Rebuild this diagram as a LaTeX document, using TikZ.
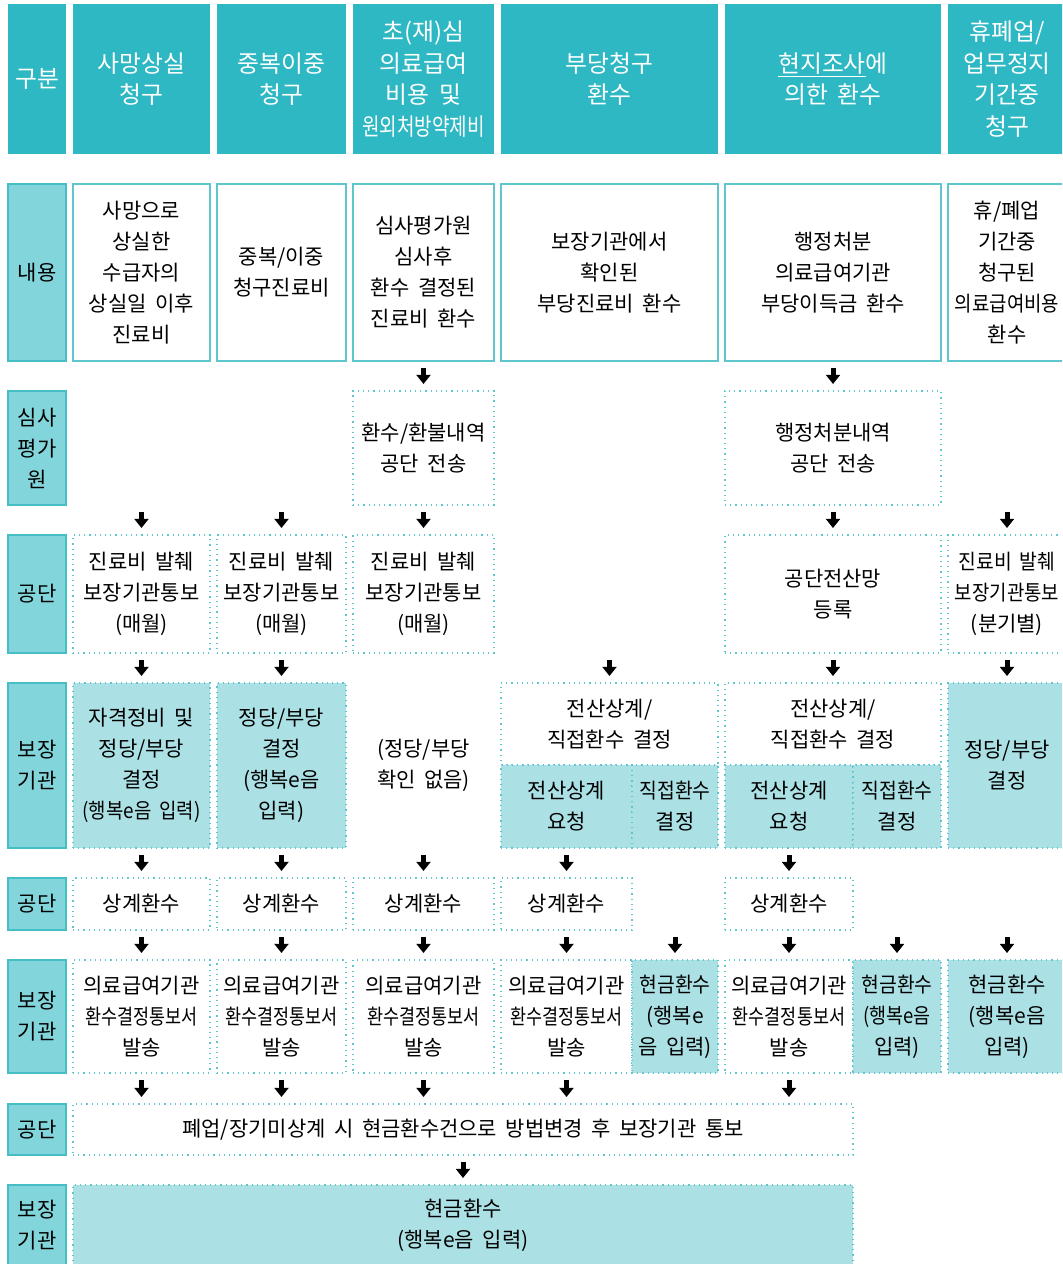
\documentclass[tikz,border=0pt]{standalone}
\usepackage{fontspec}
\setmainfont[WordSpace=1.8]{Noto Sans CJK KR}
\usepackage{graphicx}
\usetikzlibrary{arrows.meta}
\definecolor{headteal}{HTML}{2EB8C3}
\definecolor{labteal}{HTML}{82D5DA}
\definecolor{labedge}{HTML}{45BEC6}
\definecolor{boxteal}{HTML}{ABE1E5}
\definecolor{dotedge}{HTML}{5FC6CE}
\tikzset{
  cellbase/.style = {inner sep=0pt,outer sep=0pt,align=center,
                     font=\fontsize{10.5}{15.5}\selectfont},
  headcell/.style = {fill=headteal,text=white,font=\fontsize{11.9}{15.8}\selectfont},
  labcell/.style  = {fill=labteal,draw=labedge,line width=0.8pt},
  textcell/.style = {draw=dotedge,line width=0.6pt},
  dotcell/.style  = {draw=dotedge,dotted,line width=0.6pt},
  fillcell/.style = {dotcell,fill=boxteal},
  flowarr/.style  = {-{Triangle[length=4.6pt,width=7pt]},line width=2.5pt,
                     shorten <=3.5pt,shorten >=3.5pt}
}
% name, style, x1, y1, x2, y2, text (pixel grid of the page)
\newcommand{\cell}[7]{\node[cellbase,#2,minimum width={(#5-#3)*0.5pt},
  minimum height={(#6-#4)*0.5pt}] (#1) at ({(#3+#5)/2},{(#4+#6)/2}) {#7};}
\newcommand{\sqz}[2]{\scalebox{#1}[1]{#2}}

\begin{document}
\begin{tikzpicture}[x=0.5pt,y=-0.5pt]
  \useasboundingbox (0,0) rectangle (1062,1264);
  \clip (0,0) rectangle (1062,1264);

  % header row
  \cell{h0}{headcell}{8}{4}{66}{154}{구분}
  \cell{h1}{headcell}{73}{4}{210}{154}{사망상실\\청구}
  \cell{h2}{headcell}{217}{4}{346}{154}{중복이중\\청구}
  \cell{h3}{headcell}{353}{4}{494}{154}{초(재)심\\의료급여\\비용 및\\\sqz{0.8}{원외처방약제비}}
  \cell{h4}{headcell}{501}{4}{718}{154}{부당청구\\환수}
  \cell{h5}{headcell}{725}{4}{941}{154}{\underline{현지조사}에\\의한 환수}
  \cell{h6}{headcell}{948}{4}{1066}{154}{휴폐업/\\업무정지\\기간중\\청구}

  % row labels
  \cell{l1}{labcell}{8}{184}{66}{361}{내용}
  \cell{l2}{labcell}{8}{391}{66}{505}{심사\\평가\\원}
  \cell{l3}{labcell}{8}{535}{66}{653}{공단}
  \cell{l4}{labcell}{8}{683}{66}{848}{보장\\기관}
  \cell{l5}{labcell}{8}{878}{66}{930}{공단}
  \cell{l6}{labcell}{8}{960}{66}{1073}{보장\\기관}
  \cell{l7}{labcell}{8}{1104}{66}{1155}{공단}
  \cell{l8}{labcell}{8}{1185}{66}{1266}{보장\\기관}

  % 내용
  \cell{c1}{textcell}{73}{184}{210}{361}{사망으로\\상실한\\수급자의\\상실일 이후\\진료비}
  \cell{c2}{textcell}{217}{184}{346}{361}{중복/이중\\청구진료비}
  \cell{c3}{textcell}{353}{184}{494}{361}{심사평가원\\심사후\\환수 결정된\\진료비 환수}
  \cell{c4}{textcell}{501}{184}{718}{361}{보장기관에서\\확인된\\부당진료비 환수}
  \cell{c5}{textcell}{725}{184}{941}{361}{행정처분\\의료급여기관\\부당이득금 환수}
  \cell{c6}{textcell}{948}{184}{1066}{361}{휴/폐업\\기간중\\청구된\\\sqz{0.9}{의료급여비용}\\환수}

  % 심사평가원
  \cell{s3}{dotcell}{353}{391}{494}{505}{환수/환불내역\\공단 전송}
  \cell{s5}{dotcell}{725}{391}{941}{505}{행정처분내역\\공단 전송}

  % 공단
  \cell{g1}{dotcell}{73}{535}{210}{653}{진료비 발췌\\보장기관통보\\(매월)}
  \cell{g2}{dotcell}{217}{535}{346}{653}{진료비 발췌\\보장기관통보\\(매월)}
  \cell{g3}{dotcell}{353}{535}{494}{653}{진료비 발췌\\보장기관통보\\(매월)}
  \cell{g5}{dotcell}{725}{535}{941}{653}{공단전산망\\등록}
  \cell{g6}{dotcell}{948}{535}{1066}{653}{\sqz{0.92}{진료비 발췌}\\\sqz{0.9}{보장기관통보}\\(분기별)}

  % 보장기관
  \cell{b1}{fillcell}{73}{683}{210}{848}{자격정비 및\\정당/부당\\결정\\\sqz{0.9}{(행복e음 입력)}}
  \cell{b2}{fillcell}{217}{683}{346}{848}{정당/부당\\결정\\(행복e음\\입력)}
  \cell{b3}{}{353}{683}{494}{848}{(정당/부당\\확인 없음)}
  \cell{b4}{dotcell}{501}{683}{718}{765}{전산상계/\\직접환수 결정}
  \cell{b4a}{fillcell}{501}{765}{632}{848}{전산상계\\요청}
  \cell{b4b}{fillcell}{632}{765}{718}{848}{\sqz{0.92}{직접환수}\\결정}
  \cell{b5}{dotcell}{725}{683}{941}{765}{전산상계/\\직접환수 결정}
  \cell{b5a}{fillcell}{725}{765}{853}{848}{전산상계\\요청}
  \cell{b5b}{fillcell}{853}{765}{941}{848}{\sqz{0.92}{직접환수}\\결정}
  \cell{b6}{fillcell}{948}{683}{1066}{848}{정당/부당\\결정}

  % 공단
  \cell{o1}{dotcell}{73}{878}{210}{930}{상계환수}
  \cell{o2}{dotcell}{217}{878}{346}{930}{상계환수}
  \cell{o3}{dotcell}{353}{878}{494}{930}{상계환수}
  \cell{o4}{dotcell}{501}{878}{632}{930}{상계환수}
  \cell{o5}{dotcell}{725}{878}{853}{930}{상계환수}

  % 보장기관
  \cell{r1}{dotcell}{73}{960}{210}{1073}{의료급여기관\\\sqz{0.83}{환수결정통보서}\\발송}
  \cell{r2}{dotcell}{217}{960}{346}{1073}{의료급여기관\\\sqz{0.83}{환수결정통보서}\\발송}
  \cell{r3}{dotcell}{353}{960}{494}{1073}{의료급여기관\\\sqz{0.83}{환수결정통보서}\\발송}
  \cell{r4a}{dotcell}{501}{960}{632}{1073}{의료급여기관\\\sqz{0.83}{환수결정통보서}\\발송}
  \cell{r4b}{fillcell}{632}{960}{718}{1073}{\sqz{0.92}{현금환수}\\(행복e\\음 입력)}
  \cell{r5a}{dotcell}{725}{960}{853}{1073}{의료급여기관\\\sqz{0.83}{환수결정통보서}\\발송}
  \cell{r5b}{fillcell}{853}{960}{941}{1073}{\sqz{0.92}{현금환수}\\\sqz{0.88}{(행복e음}\\입력)}
  \cell{r6}{fillcell}{948}{960}{1066}{1073}{현금환수\\(행복e음\\입력)}

  % 공단 / 보장기관 (bottom)
  \cell{p}{dotcell}{73}{1104}{853}{1155}{폐업/장기미상계 시 현금환수건으로 방법변경 후 보장기관 통보}
  \cell{q}{fillcell}{73}{1185}{853}{1266}{현금환수\\(행복e음 입력)}

  % arrows
  \draw[flowarr] (c3.south) -- (s3.north);
  \draw[flowarr] (c5.south) -- (s5.north);
  \draw[flowarr] (c1.south |- s3.south) -- (g1.north);
  \draw[flowarr] (c2.south |- s3.south) -- (g2.north);
  \draw[flowarr] (s3.south) -- (g3.north);
  \draw[flowarr] (s5.south) -- (g5.north);
  \draw[flowarr] (c6.south |- s5.south) -- (g6.north);
  \draw[flowarr] (c4.south |- g5.south) -- (b4.north);
  \foreach \a/\b in {g1/b1,g2/b2,g5/b5,g6/b6,b1/o1,b2/o2,b3/o3,b4a/o4,b5a/o5,
                     o1/r1,o2/r2,o3/r3,o4/r4a,o5/r5a,p/q}
    \draw[flowarr] (\a.south) -- (\b.north);
  \draw[flowarr] (b4b.south |- o4.south) -- (r4b.north);
  \draw[flowarr] (b5b.south |- o5.south) -- (r5b.north);
  \draw[flowarr] (b6.south |- o5.south) -- (r6.north);
  \foreach \a in {r1,r2,r3,r4a,r5a}
    \draw[flowarr] (\a.south) -- (\a.south |- p.north);
\end{tikzpicture}
\end{document}
